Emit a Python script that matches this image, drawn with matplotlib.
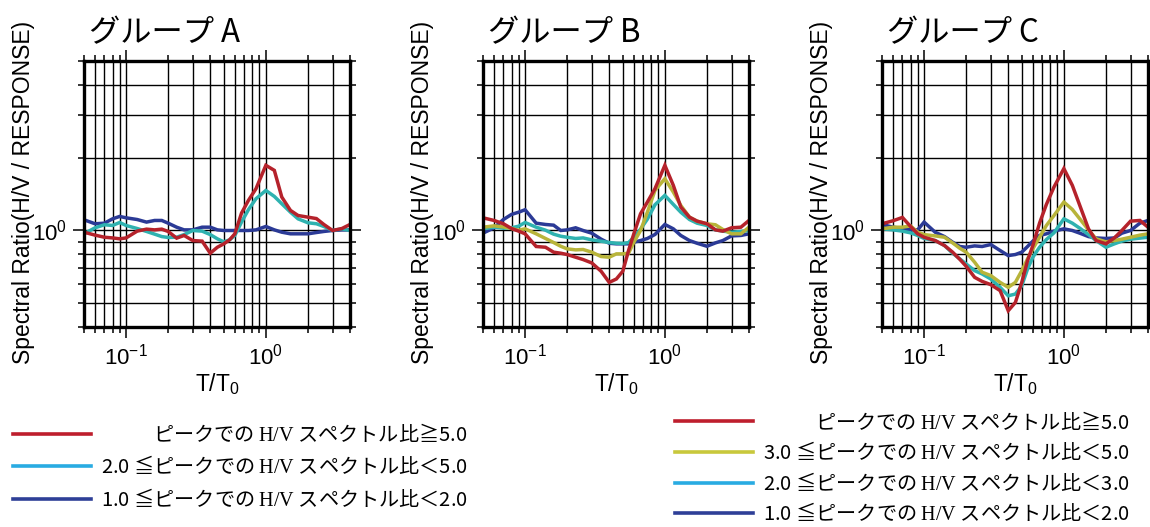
import numpy as np
import matplotlib
matplotlib.use("Agg")
import matplotlib.pyplot as plt
from matplotlib.lines import Line2D
from matplotlib.ticker import LogLocator, NullFormatter, LogFormatterSciNotation

plt.rcParams['font.family'] = ['Liberation Sans', 'Noto Sans CJK JP', 'DejaVu Sans']
plt.rcParams['mathtext.fontset'] = 'custom'
plt.rcParams['mathtext.rm'] = 'Liberation Serif'
plt.rcParams['mathtext.it'] = 'Liberation Sans:italic'
plt.rcParams['mathtext.sf'] = 'Liberation Sans'
plt.rcParams['axes.unicode_minus'] = True

# Normalised period T/T0
period = [0.05, 0.06, 0.07, 0.08, 0.09, 0.1, 0.12, 0.14, 0.16, 0.18, 0.2, 0.23,
          0.26, 0.3, 0.35, 0.4, 0.45, 0.5, 0.55, 0.6, 0.67, 0.75, 0.85, 1.0,
          1.15, 1.3, 1.5, 1.7, 2.0, 2.3, 2.6, 3.0, 3.5, 4.0]

# Group A spectral ratios
a_ge5 = [0.984, 0.957, 0.938, 0.932, 0.924, 0.932, 0.994, 1.013, 1.006, 1.013, 0.991, 0.930,
         0.954, 0.909, 0.904, 0.806, 0.853, 0.881, 0.915, 0.969, 1.180, 1.330, 1.487, 1.857,
         1.770, 1.374, 1.210, 1.153, 1.135, 1.120, 1.059, 1.000, 1.019, 1.059]
a_2to5 = [0.969, 1.026, 1.056, 1.049, 1.079, 1.049, 1.019, 0.991, 0.966, 0.944, 0.936, 0.938,
          0.962, 1.000, 0.994, 0.962, 0.924, 0.898, 0.915, 0.954, 1.083, 1.218, 1.352, 1.463,
          1.382, 1.289, 1.190, 1.117, 1.076, 1.066, 1.039, 1.000, 1.016, 1.000]
a_1to2 = [1.107, 1.066, 1.072, 1.117, 1.143, 1.128, 1.110, 1.083, 1.100, 1.100, 1.072, 1.032,
          1.006, 1.006, 1.032, 1.032, 1.006, 1.000, 1.000, 1.000, 1.000, 1.000, 1.006, 1.039,
          1.006, 0.984, 0.969, 0.969, 0.969, 0.981, 0.991, 1.000, 1.006, 1.006]

# Group B spectral ratios
b_ge5 = [1.128, 1.100, 1.066, 1.019, 0.994, 0.969, 0.859, 0.853, 0.814, 0.806, 0.796, 0.776,
         0.759, 0.735, 0.679, 0.611, 0.631, 0.679, 0.827, 0.969, 1.172, 1.310, 1.487, 1.857,
         1.535, 1.249, 1.135, 1.093, 1.066, 1.006, 0.994, 1.026, 1.032, 1.100]
b_3to5 = [1.032, 1.045, 1.035, 1.019, 1.003, 1.016, 0.969, 0.927, 0.892, 0.861, 0.840, 0.832,
          0.835, 0.814, 0.781, 0.776, 0.801, 0.801, 0.806, 0.895, 1.000, 1.190, 1.463, 1.635,
          1.440, 1.269, 1.135, 1.093, 1.066, 1.056, 1.010, 0.969, 0.969, 1.032]
b_2to3 = [1.016, 1.032, 1.022, 1.026, 1.042, 1.079, 1.032, 1.003, 0.966, 0.947, 0.938, 0.927,
          0.932, 0.915, 0.903, 0.892, 0.886, 0.884, 0.892, 0.938, 1.013, 1.114, 1.277, 1.396,
          1.281, 1.190, 1.110, 1.072, 1.049, 1.006, 0.994, 0.984, 0.991, 1.000]
b_1to2 = [0.975, 1.026, 1.110, 1.165, 1.190, 1.218, 1.072, 1.059, 1.052, 1.000, 1.006, 1.026,
          1.000, 0.975, 0.921, 0.886, 0.881, 0.881, 0.881, 0.895, 0.909, 0.927, 0.963, 1.059,
          1.016, 0.954, 0.909, 0.886, 0.861, 0.889, 0.909, 0.950, 0.954, 0.969]

# Group C spectral ratios
c_ge5 = [1.066, 1.097, 1.132, 1.039, 0.969, 0.938, 0.909, 0.867, 0.814, 0.761, 0.712, 0.641,
         0.617, 0.598, 0.565, 0.467, 0.505, 0.611, 0.751, 0.867, 1.072, 1.281, 1.511, 1.800,
         1.535, 1.269, 1.016, 0.909, 0.881, 0.932, 1.000, 1.093, 1.100, 1.032]
c_3to5 = [1.016, 1.032, 1.032, 1.045, 0.984, 0.962, 0.950, 0.938, 0.889, 0.845, 0.814, 0.740,
          0.673, 0.652, 0.611, 0.583, 0.611, 0.683, 0.764, 0.840, 0.938, 1.049, 1.153, 1.310,
          1.221, 1.117, 1.006, 0.924, 0.898, 0.909, 0.921, 0.938, 0.957, 0.969]
c_2to3 = [1.016, 1.006, 0.994, 0.978, 0.954, 0.927, 0.909, 0.867, 0.806, 0.764, 0.728, 0.683,
          0.662, 0.631, 0.583, 0.538, 0.547, 0.592, 0.694, 0.776, 0.853, 0.918, 0.978, 1.117,
          1.072, 1.022, 0.962, 0.909, 0.853, 0.881, 0.904, 0.921, 0.930, 0.938]
c_1to2 = [1.059, 1.032, 1.019, 1.006, 1.006, 1.083, 0.984, 0.944, 0.895, 0.859, 0.853, 0.864,
          0.859, 0.875, 0.827, 0.788, 0.796, 0.814, 0.859, 0.904, 0.954, 0.969, 0.994, 1.016,
          1.000, 0.975, 0.944, 0.932, 0.927, 0.932, 0.975, 1.000, 1.072, 1.100]

group_titles = ['グループ A', 'グループ B', 'グループ C']

RED, OLIVE, TEAL, NAVY = '#b5222b', '#b8b43a', '#2fb2b0', '#2b3a96'
KEY_RED, KEY_OLIVE, KEY_SKY, KEY_NAVY = '#be1e2d', '#c8c83c', '#29abe2', '#2e3f97'

label_ge5 = 'ピークでの $\\mathrm{H/V}$ スペクトル比≧5.0'
label_3to5 = '3.0 ≦ピークでの $\\mathrm{H/V}$ スペクトル比＜5.0'
label_2to5 = '2.0 ≦ピークでの $\\mathrm{H/V}$ スペクトル比＜5.0'
label_2to3 = '2.0 ≦ピークでの $\\mathrm{H/V}$ スペクトル比＜3.0'
label_1to2 = '1.0 ≦ピークでの $\\mathrm{H/V}$ スペクトル比＜2.0'

W, H = 1150, 527
fig = plt.figure(figsize=(W / 100, H / 100), dpi=100)

ax_w, ax_h = 266 / W, 266 / H
ax_bottom = (H - 327) / H
lefts = [84 / W, 483 / W, 882 / W]
axes = [fig.add_axes([l, ax_bottom, ax_w, ax_h]) for l in lefts]

series = [
    [(a_1to2, NAVY), (a_2to5, TEAL), (a_ge5, RED)],
    [(b_1to2, NAVY), (b_2to3, TEAL), (b_3to5, OLIVE), (b_ge5, RED)],
    [(c_1to2, NAVY), (c_2to3, TEAL), (c_3to5, OLIVE), (c_ge5, RED)],
]

for ax, title, curves in zip(axes, group_titles, series):
    ax.set_xscale('log')
    ax.set_yscale('log')
    for values, color in curves:
        ax.plot(period, values, color=color, lw=2.5, solid_joinstyle='miter', zorder=3)
    ax.set_xlim(0.05, 4)
    ax.set_ylim(0.4, 5)
    for axis in (ax.xaxis, ax.yaxis):
        axis.set_major_locator(LogLocator(base=10))
        axis.set_minor_locator(LogLocator(base=10, subs=np.arange(2, 10), numticks=20))
        axis.set_major_formatter(LogFormatterSciNotation())
        axis.set_minor_formatter(NullFormatter())
    ax.grid(True, which='both', color='black', lw=1.0, zorder=1)
    ax.set_axisbelow(True)
    ax.tick_params(which='both', direction='out', top=True, right=True,
                   color='black', width=1.1, labelsize=16)
    ax.tick_params(which='major', length=8, pad=4)
    ax.tick_params(which='minor', length=4.5)
    for sp in ax.spines.values():
        sp.set_linewidth(2.4)
        sp.set_zorder(4)
    ax.set_xlabel('T/T$_\\mathdefault{0}$', fontsize=16.5, va='center')
    ax.xaxis.set_label_coords(0.5, -0.215)
    ax.set_ylabel('Spectral Ratio(H/V / RESPONSE)', fontsize=16.5, va='center')
    ax.yaxis.set_label_coords(-0.229, 0.505)
    ax.text(0.017, 1.071, title, transform=ax.transAxes, fontsize=22.5,
            family=['Noto Sans CJK JP'], ha='left', va='baseline')

legend_font = {'family': 'Noto Sans CJK JP', 'size': 14.5}

leg_left = fig.legend(
    handles=[Line2D([], [], color=KEY_RED, lw=2.6),
             Line2D([], [], color=KEY_SKY, lw=2.6),
             Line2D([], [], color=KEY_NAVY, lw=2.6)],
    labels=[label_ge5, label_2to5, label_1to2],
    loc='center left', bbox_to_anchor=(13 / W, 1 - 467 / H),
    frameon=False, prop=legend_font, handlelength=3.85, handletextpad=0.5,
    labelspacing=0.45, borderpad=0, borderaxespad=0)

leg_right = fig.legend(
    handles=[Line2D([], [], color=KEY_RED, lw=2.6),
             Line2D([], [], color=KEY_OLIVE, lw=2.6),
             Line2D([], [], color=KEY_SKY, lw=2.6),
             Line2D([], [], color=KEY_NAVY, lw=2.6)],
    labels=[label_ge5, label_3to5, label_2to3, label_1to2],
    loc='center left', bbox_to_anchor=(675 / W, 1 - 468 / H),
    frameon=False, prop=legend_font, handlelength=3.85, handletextpad=0.5,
    labelspacing=0.38, borderpad=0, borderaxespad=0)

# right-align the legend labels
fig.canvas.draw()
renderer = fig.canvas.get_renderer()
for leg in (leg_left, leg_right):
    texts = leg.get_texts()
    widths = [t.get_window_extent(renderer).width for t in texts]
    wmax = max(widths)
    for t, w in zip(texts, widths):
        t.set_position((wmax - w, 0))

fig.savefig('out.png', dpi=100)
